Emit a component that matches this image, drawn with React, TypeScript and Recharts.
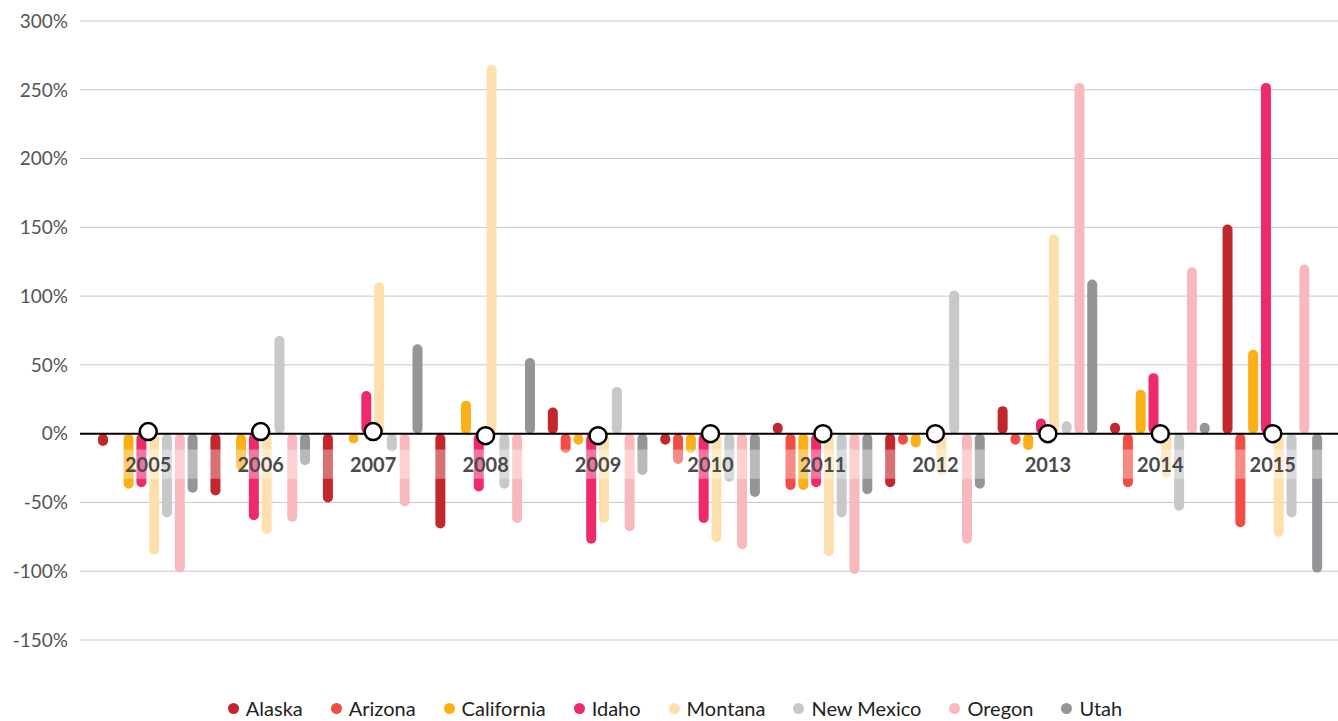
import React from "react";
import {
  ComposedChart,
  Bar,
  Line,
  XAxis,
  YAxis,
  CartesianGrid,
  ReferenceLine,
  ReferenceArea,
  LabelList,
} from "recharts";

const years = ["2005", "2006", "2007", "2008", "2009", "2010", "2011", "2012", "2013", "2014", "2015"];

// yearly change per state, in %
const alaska = [-9, -45, -50, -69, 19, -8, 8, -39, 20, 8, 152];
const arizona = [0, 0, 0, 0, -14, -22, -41, -8, -8, -39, -68];
const california = [-40, -27, -7, 24, -8, -14, -41, -10, -12, 32, 61];
const idaho = [-39, -63, 31, -42, -80, -65, -39, 0, 11, 44, 255];
const montana = [-88, -73, 110, 268, -65, -79, -89, -30, 145, -32, -75];
const newMexico = [-61, 71, -13, -40, 34, -35, -61, 104, 9, -56, -61];
const oregon = [-101, -64, -53, -65, -71, -84, -102, -80, 255, 121, 123];
const utah = [-43, -23, 65, 55, -30, -46, -44, -40, 112, 8, -101];

// year marker circles sitting on the zero line
const markers = [1.5, 1.5, 1.5, -1.5, -1.5, 0, 0, 0, 0, 0, 0];

const yTicks = [-150, -100, -50, 0, 50, 100, 150, 200, 250, 300];

const SERIES = [
  { key: "alaska", name: "Alaska", color: "#c1272d", values: alaska },
  { key: "arizona", name: "Arizona", color: "#f04e45", values: arizona },
  { key: "california", name: "California", color: "#fbb017", values: california },
  { key: "idaho", name: "Idaho", color: "#ee2a6b", values: idaho },
  { key: "montana", name: "Montana", color: "#fee0ae", values: montana },
  { key: "newMexico", name: "New Mexico", color: "#c7c8ca", values: newMexico },
  { key: "oregon", name: "Oregon", color: "#f9b8bd", values: oregon },
  { key: "utah", name: "Utah", color: "#939598", values: utah },
];

const data = years.map((year, i) => {
  const row: Record<string, string | number> = { year, marker: markers[i] };
  SERIES.forEach((s) => {
    row[s.key] = s.values[i];
  });
  return row;
});

const FONT = "Lato, 'Open Sans', sans-serif";

function MarkerDot(props: any) {
  const { cx, cy } = props;
  if (cx == null || cy == null) return null;
  return <circle cx={cx} cy={cy} r={8.5} fill="#fff" stroke="#000" strokeWidth={2.5} />;
}

// year text hangs just under the zero line
function YearLabel(props: any) {
  const { x, y, value } = props;
  return (
    <text
      x={x}
      y={y + 38}
      textAnchor="middle"
      fontFamily={FONT}
      fontWeight={700}
      fontSize={20}
      fill="#4a4a4a"
    >
      {value}
    </text>
  );
}

function ChartLegend() {
  return (
    <div
      style={{
        position: "absolute",
        top: 696,
        left: 0,
        width: 1350,
        display: "flex",
        justifyContent: "center",
        gap: 28,
        fontFamily: FONT,
        fontSize: 20,
        color: "#222",
      }}
    >
      {SERIES.map((s) => (
        <div key={s.key} style={{ display: "flex", alignItems: "center" }}>
          <span
            style={{
              width: 11,
              height: 11,
              borderRadius: "50%",
              background: s.color,
              marginRight: 7,
              display: "inline-block",
            }}
          />
          <span>{s.name}</span>
        </div>
      ))}
    </div>
  );
}

export default function App() {
  return (
    <div style={{ position: "absolute", left: 0, top: 0, width: 1338, height: 721, background: "#fff" }}>
      <ComposedChart
        width={1338}
        height={721}
        data={data}
        margin={{ top: 21, right: 0, bottom: 81, left: 0 }}
        barSize={10}
        barGap={2.8}
      >
        <CartesianGrid vertical={false} stroke="#c8c8c8" />
        <XAxis dataKey="year" hide padding={{ left: 12, right: 9 }} />
        <YAxis
          width={80}
          domain={[-150, 300]}
          ticks={yTicks}
          interval={0}
          axisLine={false}
          tickLine={false}
          tickMargin={6}
          tickFormatter={(v: number) => `${v}%`}
          tick={{ fill: "#555", fontSize: 19, fontFamily: FONT }}
        />
        {SERIES.map((s) => (
          <Bar
            key={s.key}
            dataKey={s.key}
            name={s.name}
            fill={s.color}
            radius={5}
            isAnimationActive={false}
          />
        ))}
        {/* translucent strip behind the year labels */}
        <ReferenceArea y1={-11.6} y2={-32.7} fill="#fff" fillOpacity={0.35} stroke="none" zIndex={350} />
        <ReferenceLine y={0} stroke="#000" strokeWidth={2} zIndex={360} />
        <Line
          dataKey="marker"
          stroke="none"
          legendType="none"
          dot={<MarkerDot />}
          activeDot={false}
          isAnimationActive={false}
        />
        <Line
          dataKey={() => 0}
          stroke="none"
          legendType="none"
          dot={false}
          activeDot={false}
          isAnimationActive={false}
        >
          <LabelList dataKey="year" content={<YearLabel />} />
        </Line>
      </ComposedChart>
      <ChartLegend />
    </div>
  );
}
